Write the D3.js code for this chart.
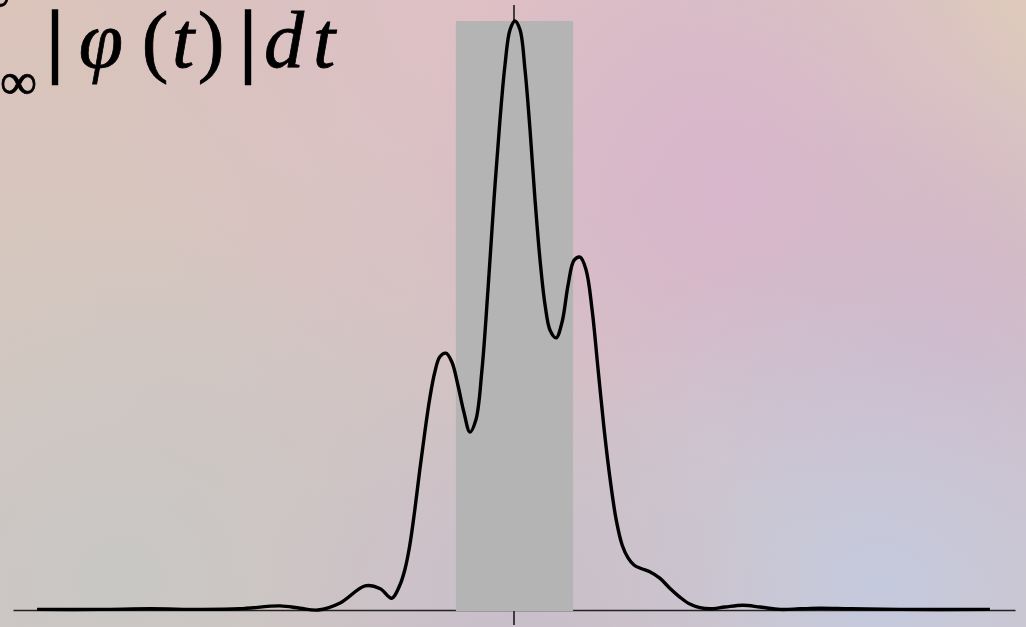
<!DOCTYPE html>
<html>
<head>
<meta charset="utf-8">
<script src="https://cdn.jsdelivr.net/npm/d3@7/dist/d3.min.js"></script>
<style>
  html, body { margin: 0; padding: 0; background: #d2c4c4; overflow: hidden; }
  svg { display: block; }
</style>
</head>
<body>
<svg id="chart" width="1026" height="627"></svg>
<script>
// Sample points of the magnitude |φ(t)|
const tValues = [
  -9.52, -8.26, -7.25, -6.27, -5.47, -4.67, -4.27, -3.91, -3.47, -2.97,
  -2.67, -2.44, -2.28, -2.18, -2.08, -1.98, -1.88, -1.78, -1.68, -1.58,
  -1.48, -1.36, -1.24, -1.12, -1.00, -0.88, -0.76, -0.64, -0.52, -0.40,
  -0.28, -0.18, -0.08, 0.02, 0.12, 0.22, 0.32, 0.42, 0.52, 0.62,
  0.72, 0.84, 0.96, 1.08, 1.20, 1.32, 1.44, 1.56, 1.68, 1.80,
  1.92, 2.04, 2.16, 2.28, 2.40, 2.55, 2.71, 2.91, 3.11, 3.31,
  3.51, 3.71, 3.91, 4.21, 4.57, 4.91, 5.31, 5.71, 6.11, 6.71,
  7.70, 9.50
];
const phiMagnitude = [
  0.001, 0.001, 0.002, 0.001, 0.002, 0.007, 0.003, 0.000, 0.012, 0.041,
  0.036, 0.020, 0.042, 0.068, 0.110, 0.170, 0.238, 0.302, 0.360, 0.404,
  0.430, 0.436, 0.421, 0.382, 0.336, 0.302, 0.323, 0.407, 0.543, 0.696,
  0.832, 0.925, 0.985, 1.000, 0.985, 0.917, 0.815, 0.696, 0.594, 0.518,
  0.475, 0.462, 0.489, 0.552, 0.594, 0.599, 0.577, 0.509, 0.407, 0.306,
  0.221, 0.153, 0.110, 0.088, 0.076, 0.070, 0.065, 0.054, 0.037, 0.022,
  0.010, 0.004, 0.002, 0.005, 0.008, 0.005, 0.001, 0.002, 0.003, 0.002,
  0.001, 0.001
];
// Highlighted interval on the t axis
const bandInterval = [-1.16, 1.18];
const xDomain = [-10, 10];
const yDomain = [0, 1];

const W = 1026, H = 627;
const svg = d3.select("#chart");
const defs = svg.append("defs");

// Soft multi-colour backdrop
const blobs = [
  { cx: 0,    cy: 0,   r: 520, c: "#ddc2b8" },
  { cx: 0,    cy: 300, r: 400, c: "#d6c7be" },
  { cx: 500,  cy: 0,   r: 420, c: "#dfc0c4" },
  { cx: 1026, cy: 0,   r: 360, c: "#dfc9bc" },
  { cx: 730,  cy: 190, r: 330, c: "#d8b5cc" },
  { cx: 950,  cy: 330, r: 260, c: "#d2b6c8" },
  { cx: 120,  cy: 580, r: 380, c: "#c8c7c4" },
  { cx: 880,  cy: 590, r: 360, c: "#c4c9dd" },
  { cx: 520,  cy: 620, r: 260, c: "#c8bfcb" }
];
blobs.forEach((b, i) => {
  const g = defs.append("radialGradient").attr("id", "blob" + i);
  g.append("stop").attr("offset", "0%").attr("stop-color", b.c).attr("stop-opacity", 1);
  g.append("stop").attr("offset", "100%").attr("stop-color", b.c).attr("stop-opacity", 0);
});
svg.append("rect").attr("width", W).attr("height", H).attr("fill", "#d2c3c4");
svg.append("g").selectAll("circle").data(blobs).join("circle")
  .attr("cx", d => d.cx).attr("cy", d => d.cy).attr("r", d => d.r)
  .attr("fill", (d, i) => `url(#blob${i})`);

const x = d3.scaleLinear().domain(xDomain).range([13, 1015]);
const y = d3.scaleLinear().domain(yDomain).range([610, 21]);

// Vertical axis through t = 0
svg.append("line")
  .attr("x1", x(0)).attr("x2", x(0))
  .attr("y1", 5).attr("y2", 625)
  .attr("stroke", "#111").attr("stroke-width", 1.5);

// Horizontal axis
const xAxis = d3.axisBottom(x).tickValues([]).tickSizeOuter(0);
svg.append("g")
  .attr("transform", `translate(0,${y(0)})`)
  .call(xAxis)
  .call(g => g.select(".domain").attr("stroke", "#222").attr("stroke-width", 1.3));

// Shaded band
svg.append("rect")
  .attr("x", x(bandInterval[0]))
  .attr("width", x(bandInterval[1]) - x(bandInterval[0]))
  .attr("y", y(1))
  .attr("height", y(0) - y(1) + 1)
  .attr("fill", "#b4b4b4");

// The curve
const points = tValues.map((t, i) => [t, phiMagnitude[i]]);
const line = d3.line()
  .x(d => x(d[0]))
  .y(d => y(d[1]))
  .curve(d3.curveCatmullRom.alpha(0.5));
svg.append("path")
  .datum(points)
  .attr("d", line)
  .attr("fill", "none")
  .attr("stroke", "#000")
  .attr("stroke-width", 3.4)
  .attr("stroke-linejoin", "round");

// Formula ∫_{-∞}^{∞} |φ(t)| dt (integral sign sits past the left edge)
const mathFont = "'Liberation Serif', 'DejaVu Serif', serif";
const formula = svg.append("g").attr("font-family", mathFont)
  .attr("fill", "#000").attr("stroke", "#000").attr("stroke-width", 0.8);
formula.append("text").attr("x", 10).attr("y", 12).attr("font-size", 52)
  .attr("text-anchor", "end").text("∞");
formula.append("text").attr("x", 37).attr("y", 99).attr("font-size", 52)
  .attr("text-anchor", "end").text("∞");
const glyphs = [
  { ch: "|", cx: 55,  italic: false, w: 2.4 },
  { ch: "φ", cx: 101, italic: true,  w: 0.8 },
  { ch: "(", cx: 155, italic: false, w: 0.8 },
  { ch: "t", cx: 183, italic: true,  w: 0.8 },
  { ch: ")", cx: 211, italic: false, w: 0.8 },
  { ch: "|", cx: 248, italic: false, w: 2.4 },
  { ch: "d", cx: 284, italic: true,  w: 0.8 },
  { ch: "t", cx: 324, italic: true,  w: 0.8 }
];
formula.selectAll("text.g").data(glyphs).join("text")
  .attr("class", "g")
  .attr("x", d => d.cx).attr("y", 67)
  .attr("font-size", 80)
  .attr("font-style", d => d.italic ? "italic" : "normal")
  .attr("stroke-width", d => d.w)
  .attr("text-anchor", "middle")
  .text(d => d.ch);
</script>
</body>
</html>
